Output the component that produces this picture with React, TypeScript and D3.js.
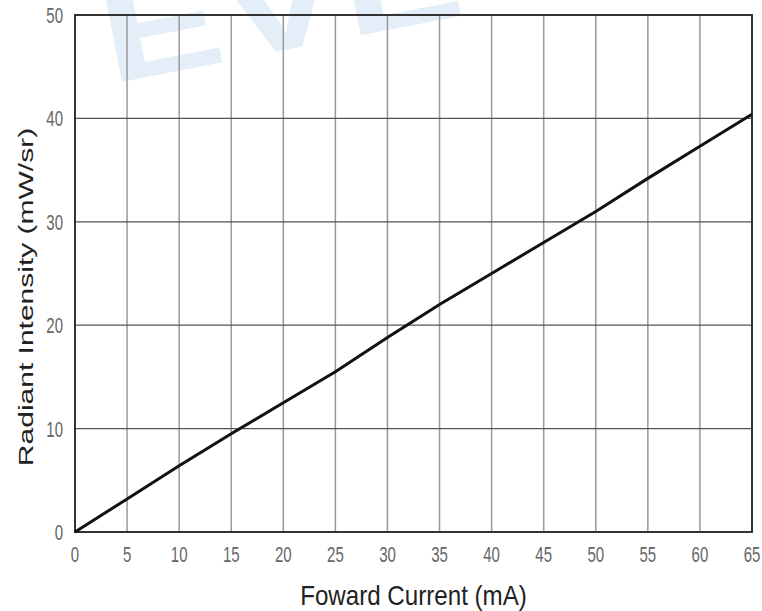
import React, { useRef, useEffect } from 'react';
import * as d3 from 'd3';

// Forward current (mA) and radiant intensity (mW/sr)
const currents = [0, 5, 10, 15, 20, 25, 30, 35, 40, 45, 50, 55, 60, 65];
const intensities = [0, 3.2, 6.4, 9.5, 12.5, 15.5, 18.8, 22, 25, 28, 31, 34.2, 37.3, 40.4];
const xTicks = [0, 5, 10, 15, 20, 25, 30, 35, 40, 45, 50, 55, 60, 65];
const yTicks = [0, 10, 20, 30, 40, 50];

const width = 762;
const height = 611;

const App: React.FC = () => {
  const svgRef = useRef<SVGSVGElement>(null);

  useEffect(() => {
    if (!svgRef.current) return;
    const svg = d3.select(svgRef.current);
    svg.selectAll('*').remove();

    const margin = { top: 15, right: 10, bottom: 79, left: 75 };
    const x = d3.scaleLinear().domain([0, 65]).range([margin.left, width - margin.right]);
    const y = d3.scaleLinear().domain([0, 50]).range([height - margin.bottom, margin.top]);
    const stretch = 1.5;
    const font = 'Liberation Sans, Arial, sans-serif';

    // Watermark (faint, cut off at the top as in the scan)
    svg.append('text')
      .attr('transform', 'translate(110, 84) rotate(-11) scale(1.35, 1)')
      .attr('font-family', font)
      .attr('font-weight', 'bold')
      .attr('font-size', 135)
      .attr('fill', '#e3eef8')
      .text('EVE');

    // Vertical grid
    svg.append('g')
      .selectAll('line')
      .data(xTicks.slice(1, -1))
      .enter()
      .append('line')
      .attr('x1', d => x(d))
      .attr('x2', d => x(d))
      .attr('y1', y(0))
      .attr('y2', y(50))
      .attr('stroke', '#999')
      .attr('stroke-width', 1.5);

    // Horizontal grid
    svg.append('g')
      .selectAll('line')
      .data(yTicks.slice(1, -1))
      .enter()
      .append('line')
      .attr('x1', x(0))
      .attr('x2', x(65))
      .attr('y1', d => y(d))
      .attr('y2', d => y(d))
      .attr('stroke', '#555')
      .attr('stroke-width', 1.3);

    // Frame
    svg.append('rect')
      .attr('x', x(0))
      .attr('y', y(50))
      .attr('width', x(65) - x(0))
      .attr('height', y(0) - y(50))
      .attr('fill', 'none')
      .attr('stroke', '#333')
      .attr('stroke-width', 2);

    // Curve
    const line = d3.line<number>()
      .x((d, i) => x(currents[i]))
      .y(d => y(d));
    svg.append('path')
      .datum(intensities)
      .attr('d', line)
      .attr('fill', 'none')
      .attr('stroke', '#111')
      .attr('stroke-width', 3);

    // X tick labels
    svg.append('g')
      .selectAll('text')
      .data(xTicks)
      .enter()
      .append('text')
      .attr('transform', d => `translate(${x(d)}, ${y(0) + 30}) scale(1, ${stretch})`)
      .attr('text-anchor', 'middle')
      .attr('font-family', font)
      .attr('font-size', 15)
      .attr('fill', '#666')
      .text(d => d);

    // Y tick labels
    svg.append('g')
      .selectAll('text')
      .data(yTicks)
      .enter()
      .append('text')
      .attr('transform', d => `translate(${x(0) - 12}, ${y(d) + 8}) scale(1, ${stretch})`)
      .attr('text-anchor', 'end')
      .attr('font-family', font)
      .attr('font-size', 15)
      .attr('fill', '#666')
      .text(d => d);

    // Axis titles
    svg.append('text')
      .attr('transform', `translate(${(x(0) + x(65)) / 2}, 605) scale(1.05, 1.2)`)
      .attr('text-anchor', 'middle')
      .attr('font-family', font)
      .attr('font-size', 23)
      .attr('fill', '#222')
      .text('Foward Current (mA)');

    svg.append('text')
      .attr('transform', 'translate(33, 297) rotate(-90) scale(1.5, 1)')
      .attr('text-anchor', 'middle')
      .attr('font-family', font)
      .attr('font-size', 20)
      .attr('fill', '#222')
      .text('Radiant Intensity (mW/sr)');
  }, []);

  return (
    <div style={{ position: 'absolute', left: 0, top: 0, background: '#fff' }}>
      <svg ref={svgRef} width={width} height={height} />
    </div>
  );
};

export default App;
